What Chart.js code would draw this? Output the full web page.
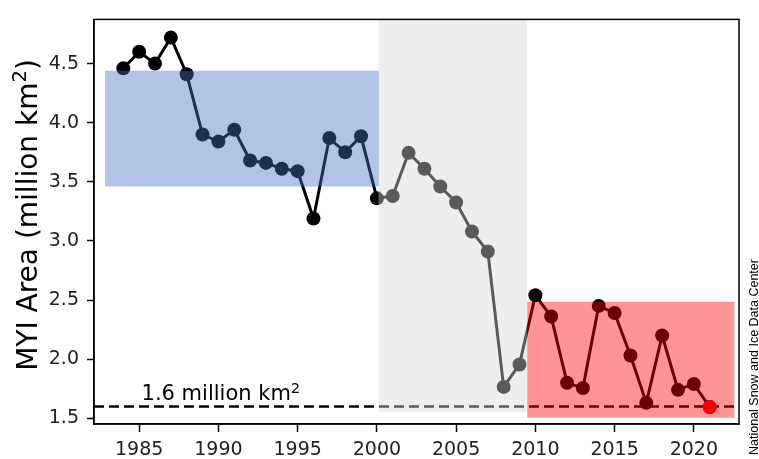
<!DOCTYPE html>
<html>
<head>
<meta charset="utf-8">
<script src="https://cdn.jsdelivr.net/npm/chart.js@4/dist/chart.umd.min.js"></script>
<style>
  html, body { margin: 0; padding: 0; background: #ffffff; }
  #wrap { width: 759px; height: 459px; }
</style>
</head>
<body>
<div id="wrap"><canvas id="c" width="759" height="459"></canvas></div>
<script>
// ---- data ----
const years = [1984,1985,1986,1987,1988,1989,1990,1991,1992,1993,1994,1995,1996,1997,1998,1999,
               2000,2001,2002,2003,2004,2005,2006,2007,2008,2009,2010,2011,2012,2013,2014,2015,
               2016,2017,2018,2019,2020,2021];
const myiArea = [4.46,4.60,4.50,4.72,4.41,3.90,3.84,3.94,3.68,3.66,3.61,3.59,3.19,3.87,3.75,3.885,
                 3.36,3.38,3.745,3.61,3.46,3.325,3.08,2.91,1.765,1.955,2.54,2.36,1.80,1.755,2.45,2.39,
                 2.03,1.63,2.20,1.74,1.79,1.595];
const xTicks = [1985,1990,1995,2000,2005,2010,2015,2020];
const yTicks = [1.5,2.0,2.5,3.0,3.5,4.0,4.5];
const thresholdValue = 1.6;
const thresholdLabelParts = ['1.6 million km', '2', ''];
const yTitleParts = ['MYI Area (million km', '2', ')'];
const sourceText = 'National Snow and Ice Data Center';
// shaded spans: [xStart, xEnd, yStart, yEnd]
const blueSpan = [1982.85, 2000.13, 3.46, 4.44];
const graySpan = [2000.1, 2009.49, 1.55, 4.874];
const redSpan  = [2009.49, 2022.56, 1.505, 2.485];
const xRange = [1982.15, 2022.85];
const yRange = [1.451, 4.874];

const FONT = "'DejaVu Sans', sans-serif";

const points = years.map((y, i) => ({ x: y, y: myiArea[i] }));
const lastIdx = years.length - 1;

// draws base + superscript + tail starting at (x, y) baseline, left aligned
function supText(ctx, parts, size, x, y) {
  ctx.font = size + 'px ' + FONT;
  ctx.fillText(parts[0], x, y);
  let w = ctx.measureText(parts[0]).width;
  ctx.font = (size * 0.7) + 'px ' + FONT;
  ctx.fillText(parts[1], x + w, y - size * 0.36);
  w += ctx.measureText(parts[1]).width;
  ctx.font = size + 'px ' + FONT;
  if (parts[2]) ctx.fillText(parts[2], x + w, y);
}
function supWidth(ctx, parts, size) {
  ctx.font = size + 'px ' + FONT;
  let w = ctx.measureText(parts[0]).width + ctx.measureText(parts[2] || '').width;
  ctx.font = (size * 0.7) + 'px ' + FONT;
  return w + ctx.measureText(parts[1]).width;
}

const overlayPlugin = {
  id: 'overlay',
  afterDatasetDraw(chart, args) {
    if (args.index !== 1) return;
    const ctx = chart.ctx, xs = chart.scales.x, ys = chart.scales.y;
    const rect = (s, col) => {
      const x0 = xs.getPixelForValue(s[0]), x1 = xs.getPixelForValue(s[1]);
      const y0 = ys.getPixelForValue(s[3]), y1 = ys.getPixelForValue(s[2]);
      ctx.fillStyle = col;
      ctx.fillRect(x0, y0, x1 - x0, y1 - y0);
    };
    ctx.save();
    rect(blueSpan, 'rgba(67,114,193,0.42)');
    rect(graySpan, 'rgba(214,214,214,0.42)');
    rect(redSpan, 'rgba(255,0,0,0.42)');
    ctx.restore();
  },
  afterDraw(chart) {
    const ctx = chart.ctx, a = chart.chartArea, xs = chart.scales.x, ys = chart.scales.y;
    ctx.save();
    // frame
    ctx.strokeStyle = '#000';
    ctx.lineWidth = 1.5;
    ctx.strokeRect(a.left, a.top, a.right - a.left, a.bottom - a.top);
    // threshold label
    ctx.fillStyle = '#000';
    ctx.textBaseline = 'alphabetic';
    ctx.textAlign = 'left';
    supText(ctx, thresholdLabelParts, 21, xs.getPixelForValue(1985.15), ys.getPixelForValue(thresholdValue) - 6);
    // y title
    ctx.save();
    ctx.translate(36.5, 215);
    ctx.rotate(-Math.PI / 2);
    const tw = supWidth(ctx, yTitleParts, 28);
    supText(ctx, yTitleParts, 28, -tw / 2, 0);
    ctx.restore();
    // source text
    ctx.save();
    ctx.translate(758, 455);
    ctx.rotate(-Math.PI / 2);
    ctx.textAlign = 'left';
    ctx.font = "12.5px 'Liberation Sans', Arial, sans-serif";
    ctx.fillStyle = '#000';
    ctx.fillText(sourceText, 0, 0);
    ctx.restore();
    ctx.restore();
  }
};

new Chart(document.getElementById('c'), {
  type: 'line',
  data: {
    datasets: [
      {
        label: 'latest',
        data: [points[lastIdx]],
        showLine: false,
        pointRadius: 7,
        pointBackgroundColor: '#ff0000',
        pointBorderColor: '#ff0000',
        pointBorderWidth: 0
      },
      {
        label: 'MYI',
        data: points,
        borderColor: '#000',
        borderWidth: 3,
        pointRadius: 7,
        pointBackgroundColor: '#000',
        pointBorderColor: '#000',
        pointBorderWidth: 0,
        tension: 0
      },
      {
        label: 'threshold',
        data: [{ x: xRange[0], y: thresholdValue }, { x: xRange[1], y: thresholdValue }],
        borderColor: '#000',
        borderWidth: 2.5,
        borderDash: [10, 5],
        pointRadius: 0
      }
    ]
  },
  options: {
    responsive: false,
    devicePixelRatio: 1,
    animation: false,
    layout: { padding: { top: 7, right: 20, left: 0, bottom: 0 } },
    plugins: { legend: { display: false }, tooltip: { enabled: false } },
    scales: {
      x: {
        type: 'linear',
        min: xRange[0], max: xRange[1],
        afterFit: s => { s.height = 35; },
        afterBuildTicks: s => { s.ticks = xTicks.map(v => ({ value: v })); },
        grid: { display: true, drawOnChartArea: false, drawTicks: true, tickLength: 8, tickColor: '#000', tickWidth: 1.5 },
        border: { display: true, color: '#000', width: 1.5 },
        ticks: { font: { family: FONT, size: 19 }, color: '#222', padding: 7, maxRotation: 0,
                 callback: v => String(v) }
      },
      y: {
        type: 'linear',
        min: yRange[0], max: yRange[1],
        afterFit: s => { s.width = 94; },
        afterBuildTicks: s => { s.ticks = yTicks.map(v => ({ value: v })); },
        grid: { display: true, drawOnChartArea: false, drawTicks: true, tickLength: 7, tickColor: '#000', tickWidth: 1.5 },
        border: { display: true, color: '#000', width: 1.5 },
        ticks: { font: { family: FONT, size: 19 }, color: '#222', padding: 8,
                 callback: v => Number(v).toFixed(1) }
      }
    }
  },
  plugins: [overlayPlugin]
});
</script>
</body>
</html>
